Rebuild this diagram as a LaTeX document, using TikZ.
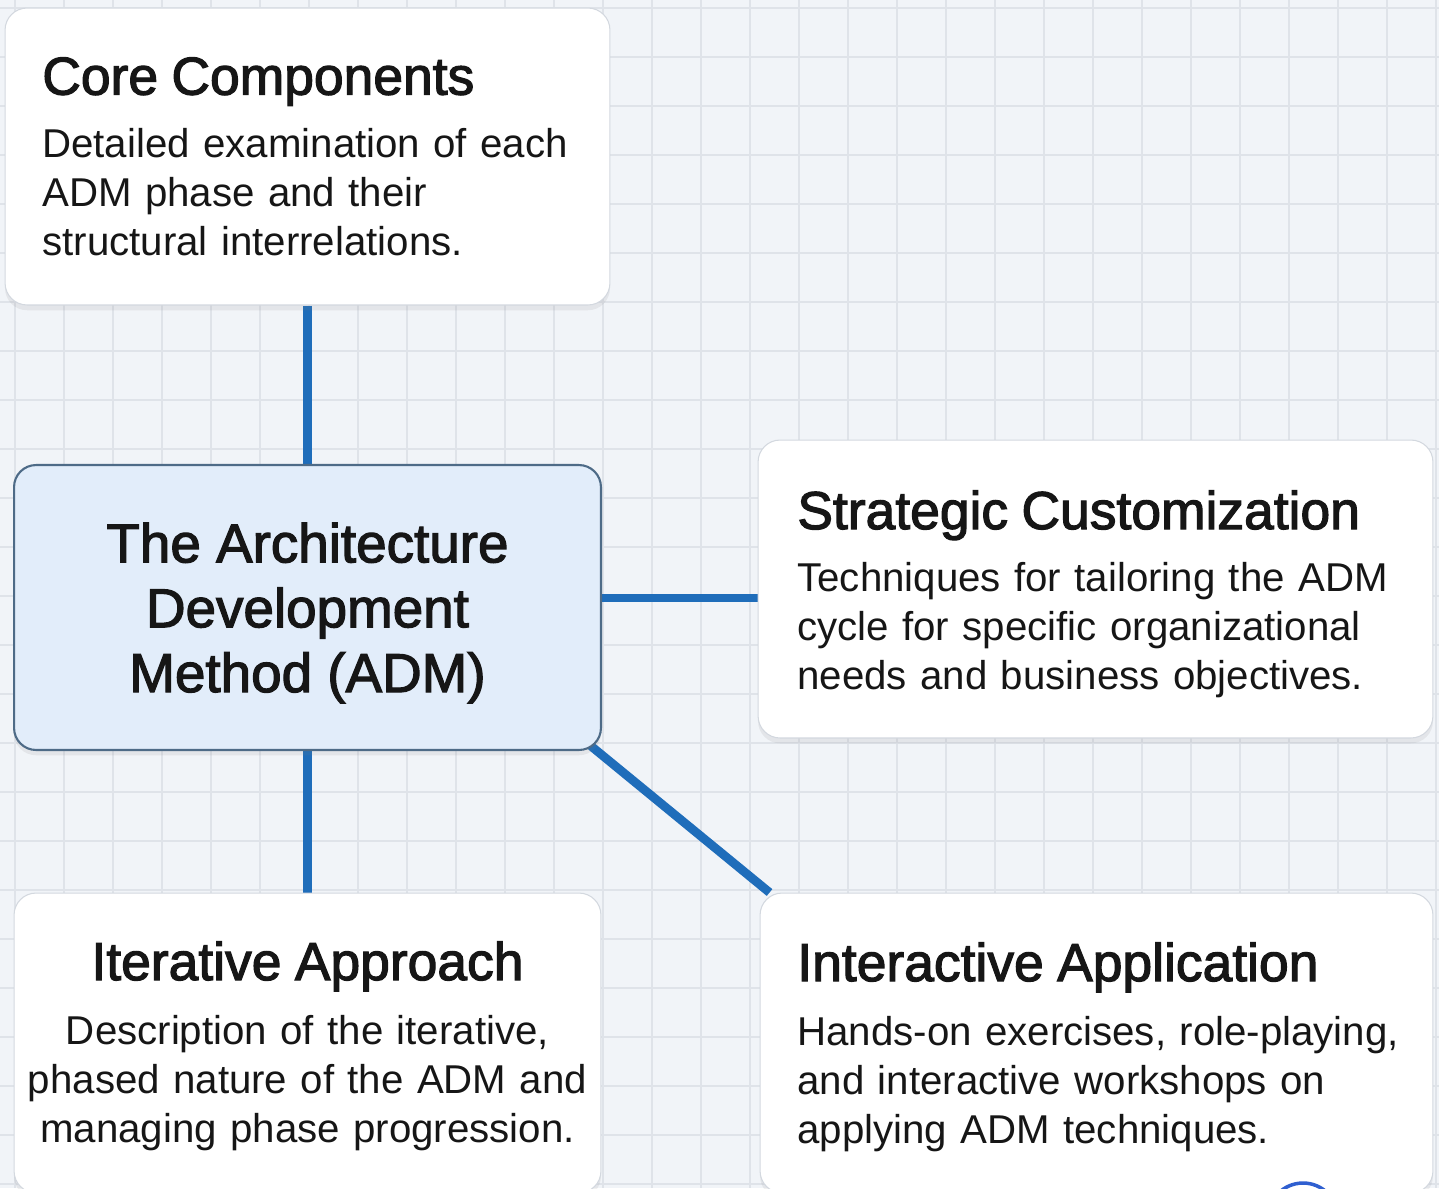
\documentclass[tikz,border=0pt]{standalone}
\usepackage{fontspec}
\setmainfont{Liberation Sans}
\newfontfamily\headfont[FakeBold=2.2]{Liberation Sans}
\usepackage{xcolor}
\usepackage{tikz}
\usetikzlibrary{positioning,shadows,backgrounds}

\definecolor{paper}{HTML}{F1F4F8}
\definecolor{gridgray}{HTML}{DFE3E9}
\definecolor{cardline}{HTML}{D3D8DF}
\definecolor{hubfill}{HTML}{E2EDFA}
\definecolor{hubline}{HTML}{4E6B87}
\definecolor{linkblue}{HTML}{1F6DBA}
\definecolor{badgeblue}{HTML}{2F5FD0}
\definecolor{ink}{HTML}{161616}

\newcommand{\cardtitle}{\headfont\fontsize{30.4}{36}\selectfont}
\newcommand{\cardbody}{\fontsize{22.9}{27.8}\selectfont}
\newcommand{\hubtitle}{\headfont\fontsize{31.2}{36.9}\selectfont}

\begin{document}
\begin{tikzpicture}[x=0.02cm, y=-0.02cm,
  card/.style={draw=cardline, fill=white, rounded corners=0.44cm, line width=0.6pt,
    drop shadow={opacity=0.12, shadow xshift=0pt, shadow yshift=-3pt}},
  hub/.style={card, draw=hubline, fill=hubfill, line width=1.2pt},
  txt/.style={inner sep=0pt, text=ink, font=\cardbody, anchor=north west, align=left},
  link/.style={draw=linkblue, line width=5pt},
  gridline/.style={draw=gridgray, line width=0.8pt}
]
\useasboundingbox (0,0) rectangle (1439,1188);
\clip (0,0) rectangle (1439,1188);

% cards
\node[card, minimum width=12.1cm, minimum height=5.94cm] (core) at (307.5,156.5) {};
\node[hub, minimum width=11.74cm, minimum height=5.7cm] (adm) at (307.5,607.5) {};
\node[card, minimum width=13.5cm, minimum height=5.96cm] (strat) at (1095.5,589) {};
\node[card, minimum width=11.74cm, minimum height=6cm] (iter) at (307.5,1043) {};
\node[card, minimum width=13.46cm, minimum height=6cm] (inter) at (1096.5,1043) {};

% texts
\node[txt, text width=11.2cm] (coretxt) at (42,57)
  {{\cardtitle Core Components}\\[8pt]Detailed examination of each\\ADM phase and their\\structural interrelations.};
\node[inner sep=0pt, text=ink, font=\hubtitle, align=center] (admtxt) at (307.5,613)
  {The Architecture\\Development\\Method (ADM)};
\node[txt, text width=12.4cm] (strattxt) at (797,490)
  {{\cardtitle Strategic Customization}\\[8pt]Techniques for tailoring the ADM\\cycle for specific organizational\\needs and business objectives.};
\node[txt, text width=11.4cm, anchor=north, align=center] (itertxt) at (307.5,941)
  {{\cardtitle Iterative Approach}\\[9pt]Description of the iterative,\\phased nature of the ADM and\\managing phase progression.};
\node[txt, text width=12.4cm] (intertxt) at (797,942)
  {{\cardtitle Interactive Application}\\[9pt]Hands-on exercises, role-playing,\\and interactive workshops on\\applying ADM techniques.};

\node[circle, draw=badgeblue, line width=2pt, minimum size=1.4cm] (badge) at (1303,1218) {};

\begin{scope}[on background layer]
  \fill[paper] (0,0) rectangle (1439,1188);
  \foreach \gx in {15,64,...,1439} { \draw[gridline] (\gx,0) -- (\gx,1188); }
  \foreach \gy in {8,57,...,1188} { \draw[gridline] (0,\gy) -- (1439,\gy); }
  \draw[link] (core.south) -- (adm.north);
  \draw[link] (adm.east |- 0,598) -- (strat.west |- 0,598);
  \draw[link] (adm.south) -- (iter.north);
  \draw[link] ([shift={(-11,-5)}]adm.south east) -- ([xshift=0.2cm]inter.north west);
\end{scope}
\end{tikzpicture}
\end{document}
